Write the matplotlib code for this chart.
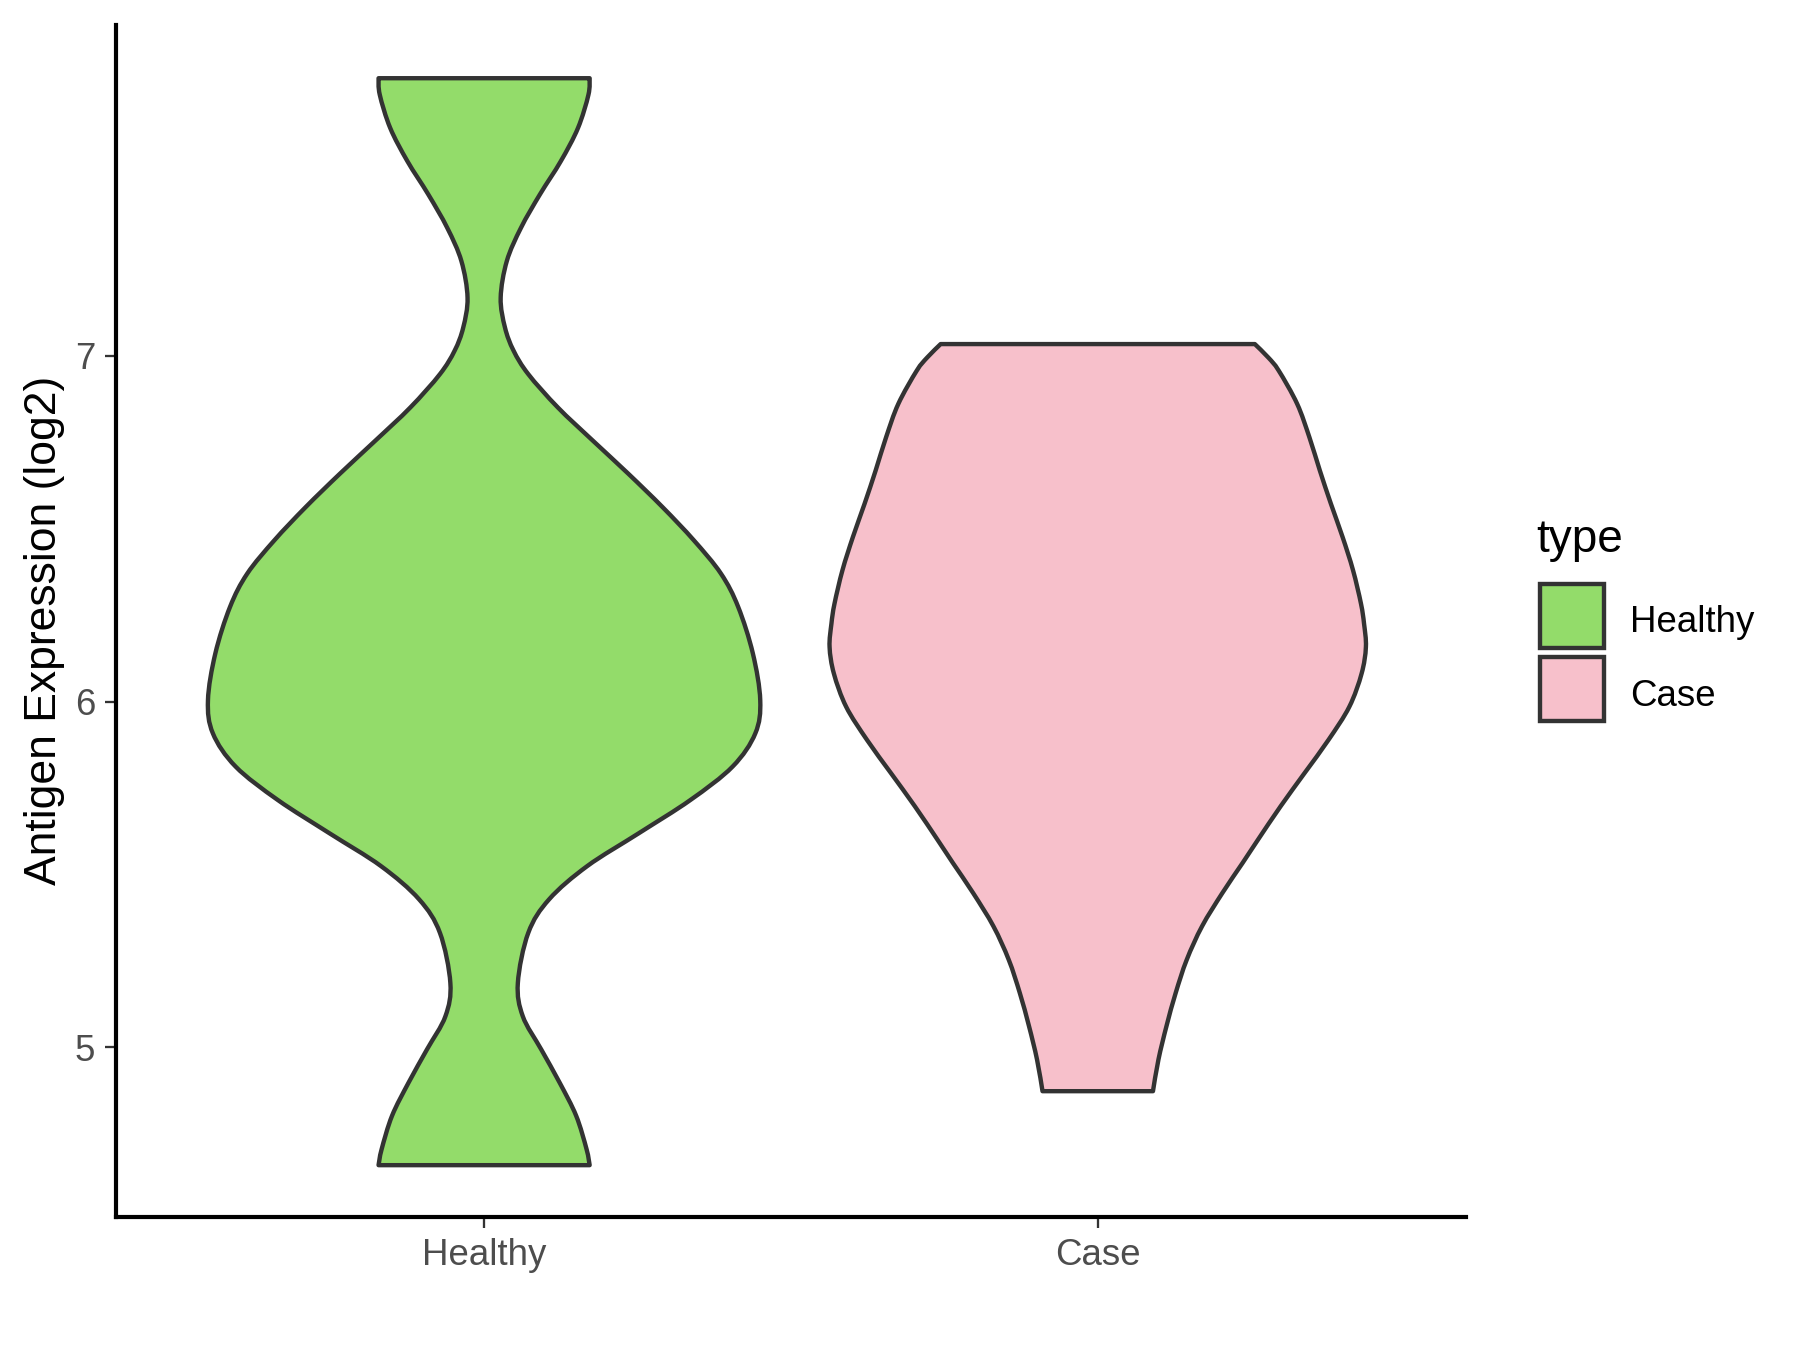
import matplotlib
matplotlib.use("Agg")
import matplotlib.pyplot as plt
from matplotlib.patches import Rectangle, PathPatch
from matplotlib.path import Path
import numpy as np

plt.rcParams['font.family'] = ['Liberation Sans', 'DejaVu Sans']

# groups, in axis order
groups = ["Healthy", "Case"]
fills = ["#93DC6A", "#F7C0CB"]

# violin outlines: expression level and half width (category units)
healthy_y = [4.659, 4.705, 4.802, 4.898, 4.994, 5.090, 5.186, 5.331, 5.428, 5.524,
             5.619, 5.715, 5.812, 5.908, 6.004, 6.139, 6.274, 6.370, 6.466, 6.562,
             6.659, 6.755, 6.851, 6.947, 7.015, 7.082, 7.168, 7.274, 7.370, 7.467,
             7.563, 7.659, 7.755, 7.803]
healthy_w = [0.172, 0.167, 0.150, 0.123, 0.093, 0.063, 0.055, 0.072, 0.106, 0.168,
             0.252, 0.336, 0.405, 0.442, 0.450, 0.438, 0.414, 0.386, 0.342, 0.291,
             0.235, 0.177, 0.120, 0.072, 0.048, 0.034, 0.027, 0.037, 0.060, 0.091,
             0.125, 0.153, 0.170, 0.172]

case_y = [4.873, 4.965, 5.061, 5.157, 5.253, 5.350, 5.446, 5.533, 5.600, 5.697,
          5.793, 5.889, 5.985, 6.081, 6.158, 6.225, 6.283, 6.380, 6.476, 6.572,
          6.668, 6.764, 6.861, 6.957, 6.995, 7.034]
case_w = [0.090, 0.099, 0.112, 0.127, 0.145, 0.170, 0.203, 0.236, 0.261, 0.298,
          0.337, 0.376, 0.410, 0.430, 0.437, 0.434, 0.429, 0.416, 0.399, 0.380,
          0.362, 0.345, 0.325, 0.295, 0.278, 0.256]

profiles = [(healthy_y, healthy_w), (case_y, case_w)]


def smooth_side(pts):
    # Catmull-Rom through the read points, handed to matplotlib as cubic Beziers
    verts, codes = [], []
    n = len(pts)
    for i in range(n - 1):
        p0 = pts[max(i - 1, 0)]
        p1 = pts[i]
        p2 = pts[i + 1]
        p3 = pts[min(i + 2, n - 1)]
        c1 = p1 + (p2 - p0) / 6.0
        c2 = p2 - (p3 - p1) / 6.0
        verts += [c1, c2, p2]
        codes += [Path.CURVE4] * 3
    return verts, codes


fig = plt.figure(figsize=(6, 4.5), dpi=300)
ax = fig.add_axes([0.0644, 0.0985, 0.75, 0.883])

edge = "#333333"
for i, (yy, ww) in enumerate(profiles):
    pos = i + 1
    yy = np.array(yy)
    ww = np.array(ww)
    right = np.column_stack([pos + ww, yy])
    left = np.column_stack([pos - ww, yy])[::-1]
    verts = [right[0]]
    codes = [Path.MOVETO]
    v, c = smooth_side(right)
    verts += v
    codes += c
    verts.append(left[0])
    codes.append(Path.LINETO)
    v, c = smooth_side(left)
    verts += v
    codes += c
    verts.append(right[0])
    codes.append(Path.CLOSEPOLY)
    patch = PathPatch(Path(np.array(verts), codes), facecolor=fills[i], edgecolor=edge,
                      linewidth=1.05, joinstyle='round')
    ax.add_patch(patch)

ax.set_xlim(0.4, 2.6)
ax.set_ylim(4.509, 7.957)
ax.set_xticks([1, 2])
ax.set_xticklabels(groups)
ax.set_yticks([5, 6, 7])
ax.set_yticklabels(["5", "6", "7"])
ax.tick_params(axis='both', length=2.75, width=0.55, color=edge, labelsize=8.8,
               labelcolor="#4D4D4D", pad=2.2)
for side in ["top", "right"]:
    ax.spines[side].set_visible(False)
for side in ["left", "bottom"]:
    ax.spines[side].set_linewidth(1.0)
    ax.spines[side].set_color("black")
ax.set_ylabel("Antigen Expression (log2)", fontsize=10.7, color="black", labelpad=2.5)
ax.yaxis.label.set_y(0.492)

# legend, drawn by hand in figure pixels
W, H = 1800, 1350
fig.text(1536 / W, 1 - 540 / H, "type", fontsize=11, va="center", ha="left")
key_top = [584, 657]
for i, g in enumerate(groups):
    r = Rectangle((1540 / W, 1 - (key_top[i] + 64) / H), 64 / W, 64 / H,
                  transform=fig.transFigure, facecolor=fills[i], edgecolor=edge,
                  linewidth=1.05)
    fig.patches.append(r)
    fig.text(1630 / W, 1 - (key_top[i] + 39) / H, g, fontsize=8.8, va="center", ha="left")

fig.savefig("out.png", dpi=300)
